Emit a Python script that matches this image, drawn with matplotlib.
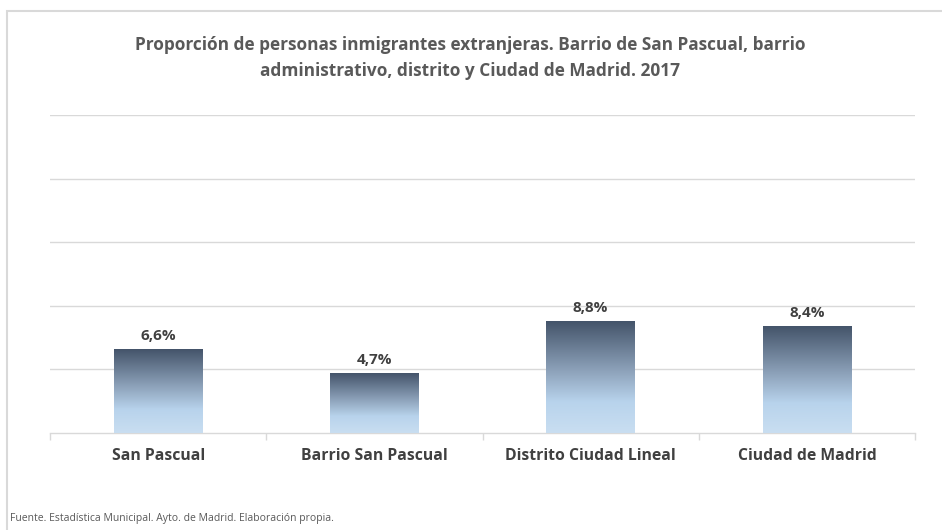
import matplotlib.pyplot as plt
import numpy as np
from matplotlib.colors import LinearSegmentedColormap
from matplotlib.patches import Rectangle

plt.rcParams['font.family'] = ['Open Sans', 'DejaVu Sans']

categorias = ['San Pascual', 'Barrio San Pascual', 'Distrito Ciudad Lineal', 'Ciudad de Madrid']
valores = [6.6, 4.7, 8.8, 8.4]
etiquetas = ['6,6%', '4,7%', '8,8%', '8,4%']

fig = plt.figure(figsize=(9.42, 5.3), dpi=100)

# marco del gráfico
top = 1 - 11 / 530
fig.patches.append(Rectangle((7 / 942, -0.1), 2, top + 0.1, transform=fig.transFigure,
                             fill=False, edgecolor='#d9d9d9', linewidth=1.5))

ax = fig.add_axes([50 / 942, 1 - 433 / 530, 865 / 942, (433 - 115) / 530])
ax.set_xlim(-0.5, 3.5)
ax.set_ylim(0, 25)

cmap = LinearSegmentedColormap.from_list('grad', [
    (0.0, '#c9def1'), (0.28, '#b8d3ec'), (0.55, '#8ea3bb'), (1.0, '#44546a')])
grad = np.linspace(0, 1, 256).reshape(-1, 1)

ancho = 0.41
bars = ax.bar(range(len(valores)), valores, width=ancho, color='none', zorder=3)
for b, v in zip(bars, valores):
    x0 = b.get_x()
    im = ax.imshow(grad, extent=[x0, x0 + ancho, 0, v], origin='lower', cmap=cmap,
                   aspect='auto', zorder=3)
    im.set_clip_path(b)

for i, (v, t) in enumerate(zip(valores, etiquetas)):
    ax.text(i, v + 0.45, t, ha='center', va='bottom', fontsize=11,
            fontweight='bold', color='#404040')

ax.set_yticks([5, 10, 15, 20, 25])
ax.yaxis.grid(True, color='#d9d9d9', linewidth=1)
ax.set_axisbelow(True)
ax.tick_params(axis='y', left=False, labelleft=False)
for s in ['top', 'right', 'left']:
    ax.spines[s].set_visible(False)
ax.spines['bottom'].set_color('#d9d9d9')
ax.spines['bottom'].set_linewidth(1)

ax.set_xticks(range(len(categorias)))
ax.set_xticklabels(categorias, fontsize=11.3, fontweight='bold', color='#404040')
ax.tick_params(axis='x', length=0, pad=11)
ax.set_xticks([-0.5, 0.5, 1.5, 2.5, 3.5], minor=True)
ax.tick_params(axis='x', which='minor', length=5, color='#d9d9d9', width=1)

fig.text(470 / 942, 1 - 58 / 530,
         'Proporción de personas inmigrantes extranjeras. Barrio de San Pascual, barrio\n'
         'administrativo, distrito y Ciudad de Madrid. 2017',
         ha='center', va='center', fontsize=12.4, fontweight='bold', color='#595959',
         linespacing=1.55)

fig.text(10 / 942, 1 - 518 / 530,
         'Fuente. Estadística Municipal. Ayto. de Madrid. Elaboración propia.',
         ha='left', va='center', fontsize=7.5, color='#595959')

plt.savefig('out.png', dpi=100)
